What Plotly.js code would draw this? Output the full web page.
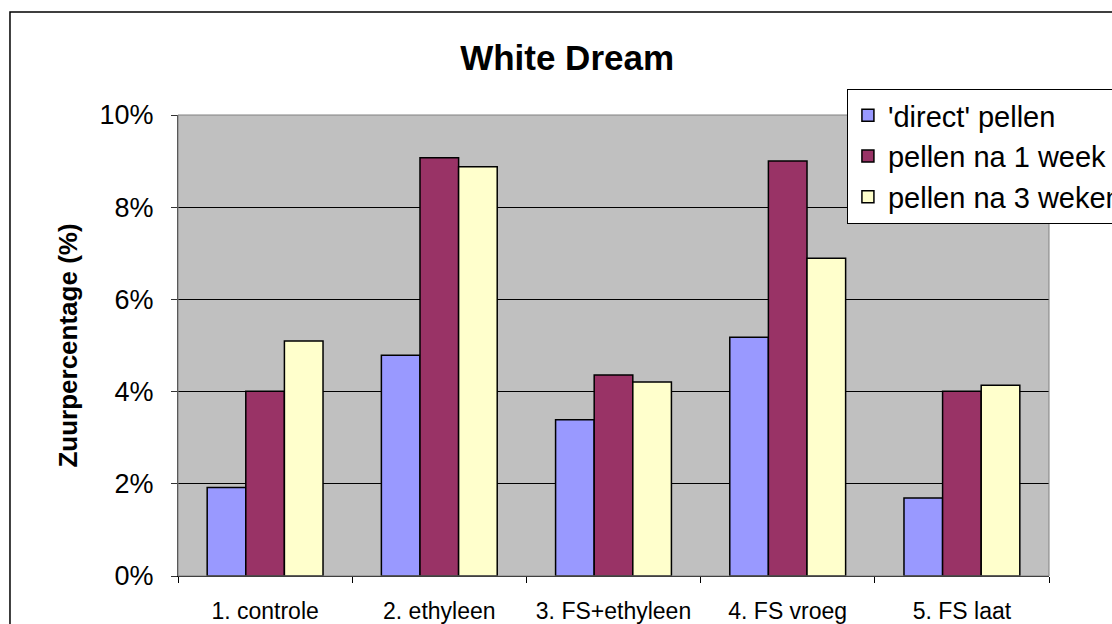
<!DOCTYPE html>
<html>
<head>
<meta charset="utf-8">
<script src="https://cdn.plot.ly/plotly-3.0.1.min.js"></script>
<style>html,body{margin:0;padding:0;background:#fff;}#chart{width:1112px;height:624px;}</style>
</head>
<body>
<div id="chart"></div>
<script>
var categories = ["1. controle", "2. ethyleen", "3. FS+ethyleen", "4. FS vroeg", "5. FS laat"];
var seriesNames = ["'direct' pellen", "pellen na 1 week", "pellen na 3 weken"];
var directPellen = [1.92, 4.79, 3.39, 5.18, 1.69];
var pellenNa1Week = [4.01, 9.07, 4.36, 9.00, 4.01];
var pellenNa3Weken = [5.10, 8.88, 4.21, 6.89, 4.14];
var yTickValues = [0, 2, 4, 6, 8, 10];
var yTickLabels = ["0%", "2%", "4%", "6%", "8%", "10%"];

var sans = "Liberation Sans, Arial, sans-serif";
var colors = ["#9999FF", "#993366", "#FFFFCC"];
var seriesValues = [directPellen, pellenNa1Week, pellenNa3Weken];

var data = seriesValues.map(function (vals, i) {
  return {
    type: "bar",
    name: seriesNames[i],
    x: categories,
    y: vals,
    marker: {color: colors[i], line: {color: "#000000", width: 1.5}},
    hoverinfo: "x+y+name"
  };
});

var layout = {
  width: 1112,
  height: 624,
  margin: {l: 178, r: 63, t: 115, b: 48, autoexpand: false},
  paper_bgcolor: "#ffffff",
  plot_bgcolor: "#C0C0C0",
  barmode: "group",
  bargap: 0.335,
  bargroupgap: 0,
  title: {
    text: "<b>White Dream</b>",
    font: {family: sans, size: 35, color: "#000000"},
    x: 0.51, xref: "container", xanchor: "center",
    y: 0.907, yref: "container", yanchor: "middle"
  },
  xaxis: {
    type: "category",
    showgrid: false,
    showline: true, linecolor: "#000000", linewidth: 1,
    ticks: "outside", tickson: "boundaries", ticklen: 6, tickcolor: "#000000",
    tickfont: {family: sans, size: 23, color: "#000000"},
    tickangle: 0,
    ticklabelstandoff: 14,
    zeroline: false,
    fixedrange: true
  },
  yaxis: {
    range: [0, 10],
    tickvals: yTickValues,
    ticktext: yTickLabels,
    showgrid: true, gridcolor: "#000000", gridwidth: 1,
    showline: true, linecolor: "#333333", linewidth: 1,
    ticks: "outside", ticklen: 6, tickcolor: "#333333",
    tickfont: {family: sans, size: 27, color: "#000000"},
    ticklabelstandoff: 12,
    zeroline: false,
    title: {text: "<b>Zuurpercentage (%)</b>", font: {family: sans, size: 26, color: "#000000"}, standoff: 14},
    fixedrange: true
  },
  legend: {
    x: 0.768, xref: "paper", xanchor: "left",
    y: 1.0564, yref: "paper", yanchor: "top",
    bgcolor: "#ffffff", bordercolor: "#000000", borderwidth: 1,
    font: {family: sans, size: 29, color: "#000000"},
    traceorder: "normal"
  },
  shapes: [
    {type: "rect", xref: "paper", yref: "paper", x0: 0, x1: 1, y0: 0, y1: 1,
     line: {color: "#808080", width: 1}, fillcolor: "rgba(0,0,0,0)", layer: "above"},
    {type: "rect", xref: "paper", yref: "paper", x0: -0.1929, x1: 1.2, y0: -0.3, y1: 1.2234,
     line: {color: "#000000", width: 1.5}, fillcolor: "rgba(0,0,0,0)", layer: "above"}
  ],
  showlegend: true
};

Plotly.newPlot("chart", data, layout, {displayModeBar: false, staticPlot: true});
</script>
</body>
</html>
